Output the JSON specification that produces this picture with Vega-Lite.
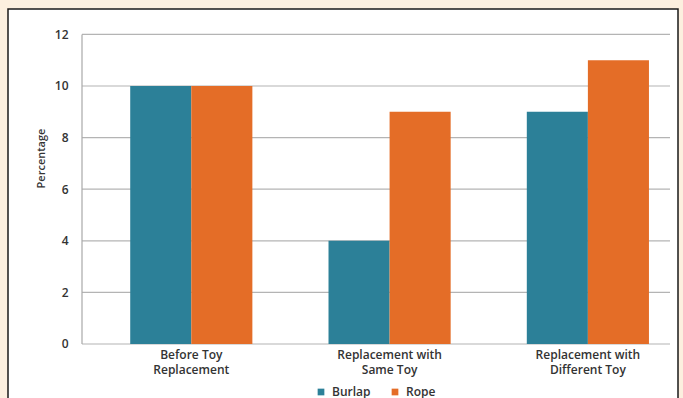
{
  "$schema": "https://vega.github.io/schema/vega-lite/v6.json",
  "width": 670,
  "height": 395,
  "autosize": {"type": "none"},
  "padding": {"left": 8, "top": 9, "right": 5, "bottom": 0},
  "background": "#fcefdf",
  "config": {
    "view": {"fill": "#ffffff", "stroke": "#1a1a1a", "strokeWidth": 1.5},
    "font": "Open Sans",
    "axis": {"labelFont": "Open Sans", "titleFont": "Open Sans", "labelColor": "#333333", "titleColor": "#333333"},
    "legend": {"labelFont": "Open Sans", "labelColor": "#333333"}
  },
  "layer": [
    {
      "data": {"values": [{"tick": 0}, {"tick": 2}, {"tick": 4}, {"tick": 6}, {"tick": 8}, {"tick": 10}, {"tick": 12}]},
      "mark": {"type": "rule", "color": "#b4b4b4", "strokeWidth": 1.2},
      "encoding": {
        "y": {
          "field": "tick",
          "type": "quantitative",
          "scale": {"domain": [-2.326, 12.984], "nice": false, "zero": false},
          "axis": {
            "title": "Percentage",
            "offset": -74,
            "values": [0, 2, 4, 6, 8, 10, 12],
            "domain": false,
            "ticks": false,
            "grid": false,
            "labelPadding": 14,
            "labelFontSize": 12,
            "labelFontWeight": 600,
            "titleFontSize": 11,
            "titleFontWeight": 600,
            "titleX": -41,
            "titleY": 149,
            "titleAngle": -90,
            "titleAlign": "center",
            "titleBaseline": "middle"
          }
        },
        "x": {"datum": 0, "type": "quantitative", "scale": {"domain": [-0.12585, 1.0136], "nice": false, "zero": false}, "axis": null},
        "x2": {"datum": 1}
      }
    },
    {
      "data": {"values": [{"from": 0, "to": 12}]},
      "mark": {"type": "rule", "color": "#a8a8a8", "strokeWidth": 1.2},
      "encoding": {
        "x": {"datum": 0, "type": "quantitative", "scale": {"domain": [-0.12585, 1.0136], "nice": false, "zero": false}, "axis": null},
        "y": {"field": "from", "type": "quantitative"},
        "y2": {"field": "to"}
      }
    },
    {
      "data": {
        "values": [
          {"condition": "Before Toy Replacement", "material": "Burlap", "percentage": 10},
          {"condition": "Before Toy Replacement", "material": "Rope", "percentage": 10},
          {"condition": "Replacement with Same Toy", "material": "Burlap", "percentage": 4},
          {"condition": "Replacement with Same Toy", "material": "Rope", "percentage": 9},
          {"condition": "Replacement with Different Toy", "material": "Burlap", "percentage": 9},
          {"condition": "Replacement with Different Toy", "material": "Rope", "percentage": 11}
        ]
      },
      "mark": {"type": "bar"},
      "encoding": {
        "x": {
          "field": "condition",
          "type": "nominal",
          "sort": null,
          "scale": {"paddingInner": 0.384, "paddingOuter": 0.3814, "align": 0.808},
          "axis": {
            "title": null,
            "orient": "bottom",
            "offset": -60,
            "domain": false,
            "ticks": false,
            "labelAngle": 0,
            "labelPadding": 5,
            "labelFontSize": 12,
            "labelFontWeight": 600,
            "labelLineHeight": 15,
            "labelExpr": "datum.label == 'Before Toy Replacement' ? ['Before Toy', 'Replacement'] : [slice(datum.label, 0, 16), slice(datum.label, 17)]"
          }
        },
        "xOffset": {"field": "material", "type": "nominal", "scale": {"paddingInner": 0, "paddingOuter": 0}},
        "y": {"field": "percentage", "type": "quantitative"},
        "y2": {"datum": 0},
        "color": {
          "field": "material",
          "type": "nominal",
          "scale": {"domain": ["Burlap", "Rope"], "range": ["#2c8098", "#e46d27"]},
          "legend": {
            "title": null,
            "orient": "none",
            "direction": "horizontal",
            "legendX": 307,
            "legendY": 377,
            "symbolType": "square",
            "symbolSize": 45,
            "symbolStrokeWidth": 0,
            "labelFontSize": 12,
            "labelFontWeight": 600,
            "columnPadding": 18,
            "labelOffset": 5
          }
        }
      }
    }
  ],
  "resolve": {"scale": {"x": "independent"}, "axis": {"x": "independent"}}
}
